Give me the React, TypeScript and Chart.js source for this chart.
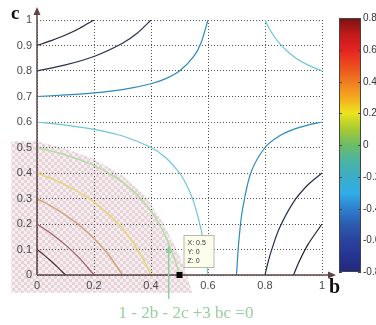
import React, { useEffect, useRef } from "react";
import { Chart, registerables } from "chart.js";
Chart.register(...registerables);

// ---- data ----
const xTicks = [0, 0.2, 0.4, 0.6, 0.8, 1];
const xTickLabels = ["0", "0.2", "0.4", "0.6", "0.8", "1"];
const yTicks = [0, 0.1, 0.2, 0.3, 0.4, 0.5, 0.6, 0.7, 0.8, 0.9, 1];
const yTickLabels = ["0", "0.1", "0.2", "0.3", "0.4", "0.5", "0.6", "0.7", "0.8", "0.9", "1"];

const colorbarTicks = [0.8, 0.6, 0.4, 0.2, 0, -0.2, -0.4, -0.6, -0.8];
const colorbarTickLabels = ["0.8", "0.6", "0.4", "0.2", "0", "-0.2", "-0.4", "-0.6", "-0.8"];

// contour lines of z = 1 - 2b - 2c + 3bc, points read as [b, c]
const contourP08 = [[0, 0.1], [0.025, 0.078], [0.05, 0.054], [0.075, 0.028], [0.1, 0]];
const contourP06 = [[0, 0.2], [0.05, 0.162], [0.1, 0.118], [0.15, 0.065], [0.2, 0]];
const contourP04 = [[0, 0.3], [0.05, 0.27], [0.1, 0.235], [0.15, 0.194], [0.2, 0.143], [0.25, 0.08], [0.3, 0]];
const contourP02 = [[0, 0.4], [0.05, 0.378], [0.1, 0.353], [0.15, 0.323], [0.2, 0.286], [0.25, 0.24], [0.3, 0.182], [0.35, 0.105], [0.375, 0.057], [0.39, 0.024], [0.4, 0]];
const contourZero = [[0, 0.5], [0.05, 0.486], [0.1, 0.471], [0.15, 0.452], [0.2, 0.429], [0.25, 0.4], [0.3, 0.364], [0.35, 0.316], [0.4, 0.25], [0.425, 0.207], [0.45, 0.154], [0.475, 0.087], [0.49, 0.038], [0.5, 0]];
const contourM02a = [[0, 0.6], [0.1, 0.588], [0.2, 0.571], [0.3, 0.545], [0.4, 0.5], [0.45, 0.462], [0.5, 0.4], [0.525, 0.353], [0.55, 0.286], [0.575, 0.182], [0.59, 0.087], [0.6, 0]];
const contourM02b = [[0.8, 1], [0.82, 0.957], [0.85, 0.909], [0.9, 0.857], [0.95, 0.824], [1, 0.8]];
const contourM04a = [[0, 0.7], [0.1, 0.706], [0.2, 0.714], [0.3, 0.727], [0.4, 0.75], [0.45, 0.769], [0.5, 0.8], [0.55, 0.857], [0.575, 0.909], [0.6, 1]];
const contourM04b = [[0.7, 0], [0.705, 0.087], [0.71, 0.154], [0.72, 0.25], [0.75, 0.4], [0.8, 0.5], [0.85, 0.545], [0.9, 0.571], [0.95, 0.588], [1, 0.6]];
const contourM06a = [[0, 0.8], [0.1, 0.824], [0.2, 0.857], [0.3, 0.909], [0.35, 0.947], [0.4, 1]];
const contourM06b = [[0.8, 0], [0.81, 0.047], [0.82, 0.087], [0.85, 0.182], [0.9, 0.286], [0.95, 0.353], [1, 0.4]];
const contourM08a = [[0, 0.9], [0.05, 0.919], [0.1, 0.941], [0.15, 0.968], [0.2, 1]];
const contourM08b = [[0.9, 0], [0.92, 0.053], [0.95, 0.118], [1, 0.2]];

const contours = [
  { level: 0.8, pts: contourP08 },
  { level: 0.6, pts: contourP06 },
  { level: 0.4, pts: contourP04 },
  { level: 0.2, pts: contourP02 },
  { level: 0, pts: contourZero },
  { level: -0.2, pts: contourM02a },
  { level: -0.2, pts: contourM02b },
  { level: -0.4, pts: contourM04a },
  { level: -0.4, pts: contourM04b },
  { level: -0.6, pts: contourM06a },
  { level: -0.6, pts: contourM06b },
  { level: -0.8, pts: contourM08a },
  { level: -0.8, pts: contourM08b },
];

// shaded region around origin (b, c)
const hatchBoundary = [[-0.09, 0.525], [0, 0.525], [0.1, 0.495], [0.2, 0.455], [0.3, 0.39], [0.38, 0.31], [0.44, 0.21], [0.49, 0.1], [0.52, 0.02], [0.545, -0.07], [-0.09, -0.07]];

const dataTip = { b: 0.5, c: 0, z: 0 };
const arrowTip = { b: 0.462, c: 0.118 };
const annotationText = "1 - 2b - 2c +3 bc =0";

// ---- styles ----
const levelColor: Record<string, string> = {
  "0.8": "#4e2e36",
  "0.6": "#a45a6a",
  "0.4": "#d4a47e",
  "0.2": "#e6d67a",
  "0": "#b6dba8",
  "-0.2": "#6cc6da",
  "-0.4": "#2b8bb8",
  "-0.6": "#26304a",
  "-0.8": "#222338",
};

const cbStops: [number, string][] = [
  [0.8, "#7a1212"], [0.7, "#c01a1a"], [0.6, "#e62222"], [0.5, "#ec4c1e"], [0.4, "#f07a20"],
  [0.3, "#f4aa1e"], [0.2, "#ece41e"], [0.1, "#a6ca32"], [0, "#6cbc66"], [-0.1, "#4cb4a2"],
  [-0.2, "#3cacc8"], [-0.3, "#30aee8"], [-0.4, "#2f80d0"], [-0.5, "#2c5cb0"], [-0.6, "#2a44a0"],
  [-0.7, "#263490"], [-0.8, "#22287c"],
];

const AXIS_COLOR = "#5e4444";
const SANS = "'Liberation Sans', Arial, sans-serif";
const SERIF = "'Liberation Serif', 'Times New Roman', serif";

const decorPlugin = {
  id: "decor",
  beforeDraw(chart: any) {
    const { ctx, scales } = chart;
    const x = scales.x, y = scales.y;
    const pc = document.createElement("canvas");
    pc.width = 6; pc.height = 6;
    const p = pc.getContext("2d")!;
    p.fillStyle = "#f6eef0"; p.fillRect(0, 0, 6, 6);
    p.fillStyle = "#e6d4d9"; p.fillRect(0, 0, 3, 3); p.fillRect(3, 3, 3, 3);
    const pat = ctx.createPattern(pc, "repeat");
    ctx.save();
    ctx.beginPath();
    hatchBoundary.forEach(([b, c], i) => {
      const px = x.getPixelForValue(b), py = y.getPixelForValue(c);
      if (i) ctx.lineTo(px, py); else ctx.moveTo(px, py);
    });
    ctx.closePath();
    ctx.fillStyle = pat;
    ctx.fill();
    ctx.restore();
  },
  afterDraw(chart: any) {
    const { ctx, scales, chartArea } = chart;
    const x = scales.x, y = scales.y;
    const x0 = x.getPixelForValue(0), y0 = y.getPixelForValue(0);
    ctx.save();
    // axes with arrows
    ctx.strokeStyle = AXIS_COLOR;
    ctx.fillStyle = AXIS_COLOR;
    ctx.lineWidth = 1.5;
    ctx.beginPath();
    ctx.moveTo(x0, y0); ctx.lineTo(x0, chartArea.top - 10);
    ctx.moveTo(x0, y0); ctx.lineTo(chartArea.right + 10, y0);
    ctx.stroke();
    ctx.beginPath();
    ctx.moveTo(x0, chartArea.top - 13); ctx.lineTo(x0 - 3.5, chartArea.top - 5); ctx.lineTo(x0 + 3.5, chartArea.top - 5); ctx.closePath();
    ctx.fill();
    ctx.beginPath();
    ctx.moveTo(chartArea.right + 14, y0); ctx.lineTo(chartArea.right + 6, y0 - 3.5); ctx.lineTo(chartArea.right + 6, y0 + 3.5); ctx.closePath();
    ctx.fill();

    // axis names
    ctx.fillStyle = "#111";
    ctx.font = `bold 19px ${SERIF}`;
    ctx.textAlign = "left";
    ctx.textBaseline = "alphabetic";
    ctx.fillText("c", 11, 19);
    ctx.font = `bold 20px ${SERIF}`;
    ctx.fillText("b", 329, 293);

    // data tip
    const tx = x.getPixelForValue(dataTip.b), ty = y.getPixelForValue(dataTip.c);
    const bx = tx + 4, by = ty - 40;
    ctx.fillStyle = "#fdfdec";
    ctx.fillRect(bx, by, 30, 32);
    ctx.strokeStyle = "#b8b8a8";
    ctx.lineWidth = 1;
    ctx.strokeRect(bx + 0.5, by + 0.5, 30, 32);
    ctx.fillStyle = "#333";
    ctx.font = `7px ${SANS}`;
    ctx.textBaseline = "middle";
    ctx.fillText(`X: ${dataTip.b}`, bx + 4, by + 8);
    ctx.fillText(`Y: ${dataTip.c}`, bx + 4, by + 17);
    ctx.fillText(`Z: ${dataTip.z}`, bx + 4, by + 26);
    ctx.fillStyle = "#000";
    ctx.fillRect(tx - 3, ty - 3, 6, 6);

    // green annotation arrow and text
    const ax = x.getPixelForValue(arrowTip.b), ay = y.getPixelForValue(arrowTip.c);
    ctx.strokeStyle = "#8fcf9c";
    ctx.fillStyle = "#8fcf9c";
    ctx.lineWidth = 1.5;
    ctx.beginPath();
    ctx.moveTo(ax, 299); ctx.lineTo(ax, ay + 5);
    ctx.stroke();
    ctx.beginPath();
    ctx.moveTo(ax, ay); ctx.lineTo(ax - 3, ay + 8); ctx.lineTo(ax + 3, ay + 8); ctx.closePath();
    ctx.fill();
    ctx.fillStyle = "#97cf9f";
    ctx.font = `17px ${SERIF}`;
    ctx.textAlign = "center";
    ctx.textBaseline = "alphabetic";
    ctx.fillText(annotationText, 186, 318);

    // colorbar
    const cbL = 339, cbR = 361, cbT = 18, cbB = 272;
    const yOf = (v: number) => cbT + ((0.8 - v) / 1.6) * (cbB - cbT);
    const g = ctx.createLinearGradient(0, cbT, 0, cbB);
    cbStops.forEach(([v, col]) => g.addColorStop((0.8 - v) / 1.6, col));
    ctx.fillStyle = g;
    ctx.fillRect(cbL, cbT, cbR - cbL, cbB - cbT);
    ctx.strokeStyle = "#444";
    ctx.lineWidth = 1;
    ctx.strokeRect(cbL + 0.5, cbT + 0.5, cbR - cbL - 1, cbB - cbT - 1);
    ctx.font = `10px ${SANS}`;
    ctx.textAlign = "left";
    ctx.textBaseline = "middle";
    colorbarTicks.forEach((v, i) => {
      const yy = Math.round(yOf(v)) + 0.5;
      ctx.strokeStyle = "#444";
      ctx.beginPath();
      ctx.moveTo(cbL, yy); ctx.lineTo(cbL + 3, yy);
      ctx.moveTo(cbR, yy); ctx.lineTo(cbR - 3, yy);
      ctx.stroke();
      ctx.fillStyle = "#333";
      ctx.fillText(colorbarTickLabels[i], cbR + 2, yy);
    });
    ctx.restore();
  },
};

export default function App() {
  const ref = useRef<HTMLCanvasElement>(null);
  useEffect(() => {
    const canvas = ref.current!;
    const datasets = contours.map((ct) => ({
      data: ct.pts.map(([b, c]) => ({ x: b, y: c })),
      showLine: true,
      borderColor: levelColor[String(ct.level)],
      backgroundColor: levelColor[String(ct.level)],
      borderWidth: ct.level > -0.1 && ct.level < 0.5 ? 1.6 : 1.2,
      pointRadius: 0,
      tension: 0.3,
      fill: false,
    }));
    const chart = new Chart(canvas, {
      type: "scatter",
      data: { datasets },
      options: {
        animation: false,
        responsive: false,
        devicePixelRatio: 1,
        layout: { padding: { left: 0, top: 20, right: 54, bottom: 0 } },
        plugins: { legend: { display: false }, tooltip: { enabled: false } },
        scales: {
          x: {
            type: "linear",
            min: 0,
            max: 1,
            afterFit: (s: any) => { s.height = 50; },
            afterBuildTicks: (s: any) => { s.ticks = xTicks.map((v) => ({ value: v })); },
            ticks: {
              padding: 4,
              color: "#4a4a4a",
              font: { family: SANS, size: 11 },
              maxRotation: 0,
              callback: (_v: any, i: number) => xTickLabels[i],
            },
            grid: { color: "#555", lineWidth: 1, drawTicks: false, borderDash: [1, 2] } as any,
            border: { display: false, dash: [1, 2] },
          },
          y: {
            type: "linear",
            min: 0,
            max: 1,
            afterFit: (s: any) => { s.width = 37; },
            afterBuildTicks: (s: any) => { s.ticks = yTicks.map((v) => ({ value: v })); },
            ticks: {
              padding: 5,
              color: "#4a4a4a",
              font: { family: SANS, size: 11 },
              callback: (_v: any, i: number) => yTickLabels[i],
            },
            grid: { color: "#555", lineWidth: 1, drawTicks: false, borderDash: [1, 2] } as any,
            border: { display: false, dash: [1, 2] },
          },
        },
      },
      plugins: [decorPlugin],
    } as any);
    return () => chart.destroy();
  }, []);
  return (
    <div style={{ position: "fixed", left: 0, top: 0, width: 376, height: 325, background: "#fff" }}>
      <canvas ref={ref} width={376} height={325} style={{ display: "block", width: 376, height: 325 }} />
    </div>
  );
}
